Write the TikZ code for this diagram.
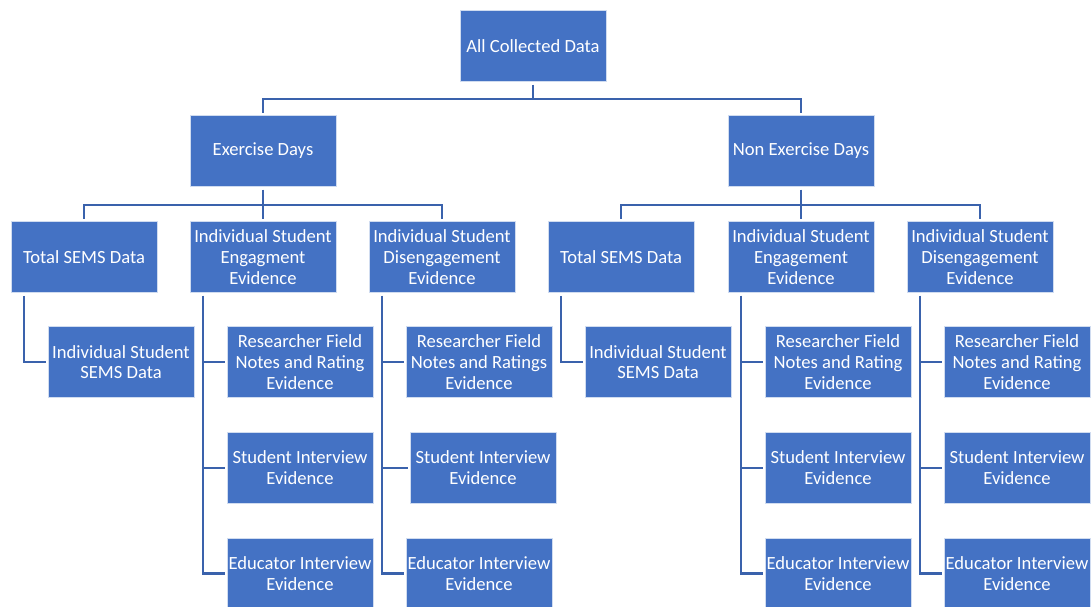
\documentclass[tikz,border=0pt]{standalone}
\usepackage{fontspec}
\setmainfont{Carlito}
\usetikzlibrary{positioning}
\definecolor{boxblue}{HTML}{4472C4}
\definecolor{lineblue}{HTML}{3A62AC}

\tikzset{
  box/.style={rectangle, fill=boxblue, draw=white!75!boxblue, line width=0.8pt,
    text=white, align=center, minimum width=146pt, minimum height=71pt,
    inner sep=0pt, font=\fontsize{18.6}{20.7}\selectfont},
  conn/.style={draw=lineblue, line width=2.6pt, shorten <=3pt, shorten >=2pt}
}

\begin{document}
\begin{tikzpicture}[x=1pt, y=-1pt, node distance=34pt]
        \useasboundingbox (0,0) rectangle (1091,606);

        \node[box] (all) at (533,46) {All Collected Data};
        \node[box] (ex) at (263,151) {Exercise Days};
        \node[box] (nex) at (801,151) {Non Exercise Days};

        \node[box] (tot1) at (84,257) {Total SEMS Data};
        \node[box] (eng1) at (263,257) {Individual Student\\Engagment\\Evidence};
        \node[box] (dis1) at (442,257) {Individual Student\\Disengagement\\Evidence};
        \node[box] (tot2) at (621,257) {Total SEMS Data};
        \node[box] (eng2) at (801,257) {Individual Student\\Engagement\\Evidence};
        \node[box] (dis2) at (980,257) {Individual Student\\Disengagement\\Evidence};

        \node[box] (isd1) at (121,362) {Individual Student\\SEMS Data};
        \node[box] (rf1) at (300,362) {Researcher Field\\Notes and Rating\\Evidence};
        \node[box, below=of rf1] (si1) {Student Interview\\Evidence};
        \node[box, below=of si1] (ei1) {Educator Interview\\Evidence};
        \node[box] (rf2) at (479,362) {Researcher Field\\Notes and Ratings\\Evidence};
        \node[box, below=of rf2, xshift=4pt] (si2) {Student Interview\\Evidence};
        \node[box, below=of si2, xshift=-4pt] (ei2) {Educator Interview\\Evidence};

        \node[box] (isd2) at (658,362) {Individual Student\\SEMS Data};
        \node[box] (rf3) at (838,362) {Researcher Field\\Notes and Rating\\Evidence};
        \node[box, below=of rf3] (si3) {Student Interview\\Evidence};
        \node[box, below=of si3] (ei3) {Educator Interview\\Evidence};
        \node[box] (rf4) at (1017,362) {Researcher Field\\Notes and Rating\\Evidence};
        \node[box, below=of rf4] (si4) {Student Interview\\Evidence};
        \node[box, below=of si4] (ei4) {Educator Interview\\Evidence};

        \draw[conn] (all.south) -- ++(0,17) -| (ex.north);
        \draw[conn] (all.south) -- ++(0,17) -| (nex.north);
        \foreach \c in {tot1,eng1,dis1}
          \draw[conn] (ex.south) -- ++(0,18) -| (\c.north);
        \foreach \c in {tot2,eng2,dis2}
          \draw[conn] (nex.south) -- ++(0,18) -| (\c.north);

        \draw[conn] ([xshift=13.5pt]tot1.south west) |- (isd1.west);
        \draw[conn] ([xshift=13.5pt]tot2.south west) |- (isd2.west);
        \foreach \p/\c in {eng1/rf1,eng1/si1,eng1/ei1,dis1/rf2,dis1/si2,dis1/ei2,
                           eng2/rf3,eng2/si3,eng2/ei3,dis2/rf4,dis2/si4,dis2/ei4}
          \draw[conn] ([xshift=13.5pt]\p.south west) |- (\c.west);
      \end{tikzpicture}
\end{document}
